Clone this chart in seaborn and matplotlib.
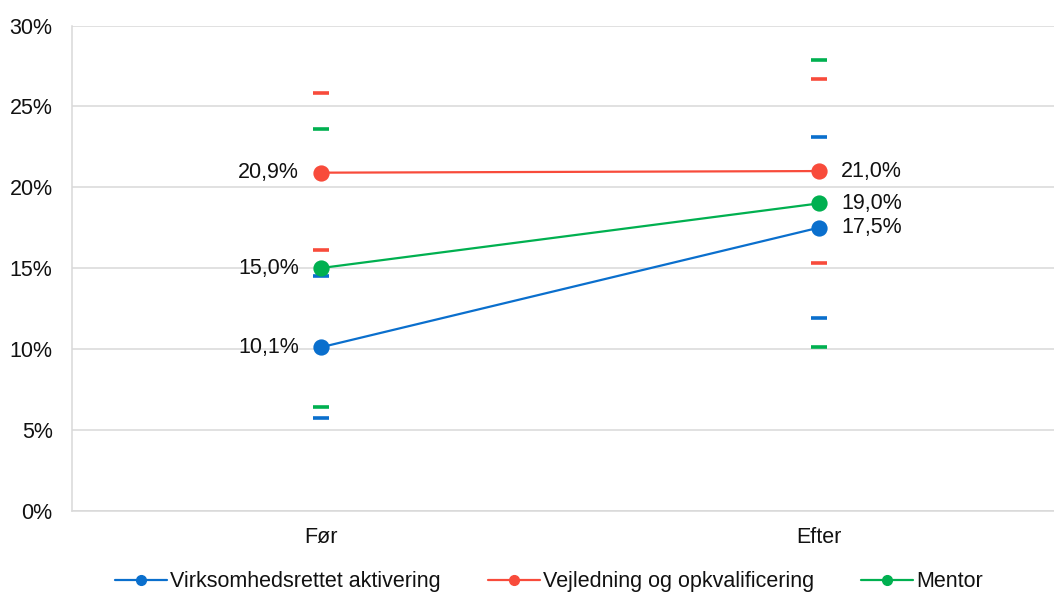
import matplotlib
matplotlib.use("Agg")
import matplotlib.pyplot as plt
from matplotlib.lines import Line2D
from matplotlib.ticker import FuncFormatter
import seaborn as sns
import pandas as pd

# Data
periods = ["Før", "Efter"]
series = ["Virksomhedsrettet aktivering", "Vejledning og opkvalificering", "Mentor"]
colors = ["#0A6FCD", "#F84B3B", "#00B050"]

mean_values = {
    "Virksomhedsrettet aktivering": [10.1, 17.5],
    "Vejledning og opkvalificering": [20.9, 21.0],
    "Mentor": [15.0, 19.0],
}
lower_values = {
    "Virksomhedsrettet aktivering": [5.7, 11.9],
    "Vejledning og opkvalificering": [16.1, 15.3],
    "Mentor": [6.4, 10.1],
}
upper_values = {
    "Virksomhedsrettet aktivering": [14.5, 23.1],
    "Vejledning og opkvalificering": [25.8, 26.7],
    "Mentor": [23.6, 27.9],
}
y_ticks = [0, 5, 10, 15, 20, 25, 30]

rows = []
for s in series:
    for i, p in enumerate(periods):
        rows.append({"series": s, "period": p, "mean": mean_values[s][i],
                     "lo": lower_values[s][i], "hi": upper_values[s][i]})
df = pd.DataFrame(rows)

sns.set_theme(style="white")
plt.rcParams["font.family"] = ["Liberation Sans", "DejaVu Sans"]

FS = 15.5
TXT = "#111111"

fig = plt.figure(figsize=(10.54, 5.95), dpi=100)
ax = fig.add_axes([72 / 1054, 0.142, 996 / 1054, 0.815])

palette = dict(zip(series, colors))

# Interval bounds as short horizontal dashes
for col in ["lo", "hi"]:
    sns.pointplot(data=df, x="period", y=col, hue="series", order=periods,
                  hue_order=series, palette=palette, markers="_",
                  linestyles="none", markersize=12, markeredgewidth=2.6,
                  errorbar=None, ax=ax, legend=False)

# Mean values joined by lines
sns.pointplot(data=df, x="period", y="mean", hue="series", order=periods,
              hue_order=series, palette=palette, markers="o",
              markersize=10.5, linewidth=1.6, errorbar=None, ax=ax,
              legend=False)

# Value labels
for s in series:
    for i, p in enumerate(periods):
        v = mean_values[s][i]
        txt = f"{v:.1f}%".replace(".", ",")
        if i == 0:
            ax.annotate(txt, (i, v), xytext=(-16, 0), textcoords="offset points",
                        ha="right", va="center", fontsize=FS, color=TXT)
        else:
            ax.annotate(txt, (i, v), xytext=(16, 0), textcoords="offset points",
                        ha="left", va="center", fontsize=FS, color=TXT)

ax.set_xlim(-0.5, 1.5)
ax.set_ylim(0, 30)
ax.set_yticks(y_ticks)
ax.yaxis.set_major_formatter(FuncFormatter(lambda v, _: f"{v:.0f}%"))
ax.set_xlabel("")
ax.set_ylabel("")
ax.grid(axis="y", color="#D9D9D9", linewidth=1.1)
ax.set_axisbelow(True)
for side in ["top", "right"]:
    ax.spines[side].set_visible(False)
for side in ["left", "bottom"]:
    ax.spines[side].set_color("#D9D9D9")
    ax.spines[side].set_linewidth(1.1)
ax.tick_params(axis="both", length=0, labelsize=FS, colors=TXT)
ax.tick_params(axis="y", pad=14)
ax.tick_params(axis="x", pad=12)

handles = [Line2D([0], [0], color=c, linewidth=1.6, marker="o", markersize=7)
           for c in colors]
fig.legend(handles, series, loc="center", bbox_to_anchor=(0.521, 0.022),
           ncol=3, frameon=False, fontsize=FS, handlelength=2.4,
           handletextpad=0.15, columnspacing=2.2, labelcolor=TXT)

fig.savefig("out.png", dpi=100)
